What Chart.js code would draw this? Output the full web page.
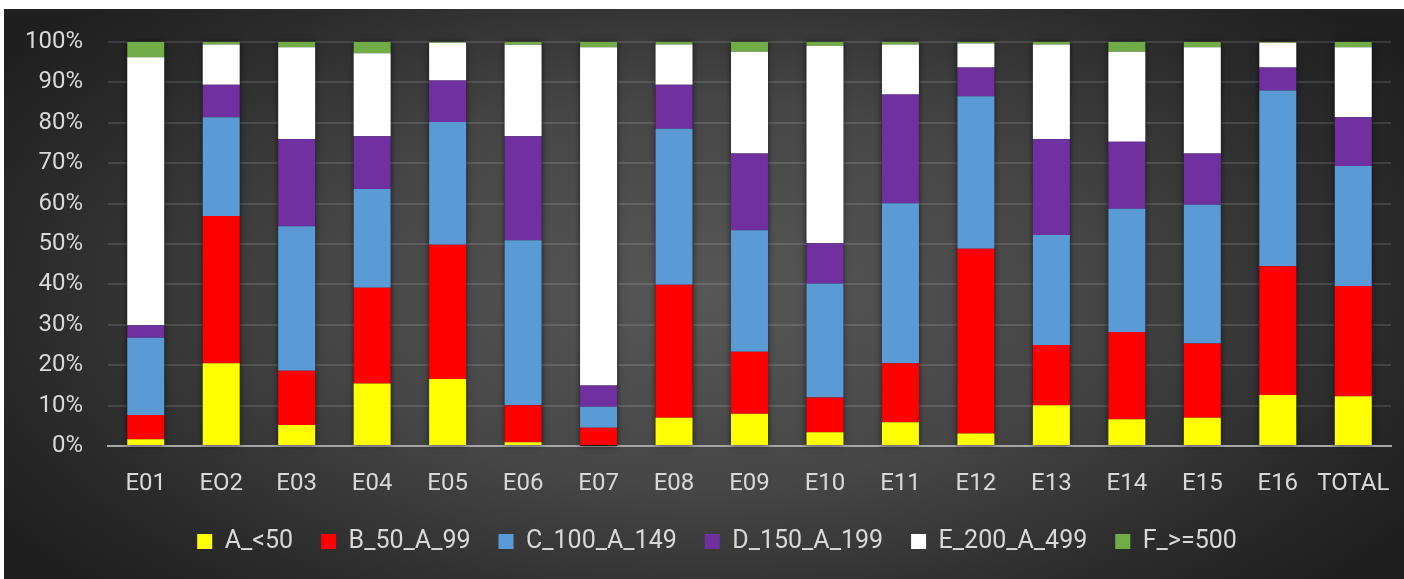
<!DOCTYPE html>
<html>
<head>
<meta charset="utf-8">
<title>Distribution by class</title>
<script src="https://cdn.jsdelivr.net/npm/chart.js@4/dist/chart.umd.min.js"></script>
<style>
  html, body { margin: 0; padding: 0; background: #ffffff; }
  #wrap {
    position: absolute;
    left: 4px; top: 9px;
    width: 1400px; height: 570px;
    background: radial-gradient(ellipse 60% 75% at 50% 50%, #575757 0%, #464646 45%, #2b2b2b 80%, #1f1f1f 100%);
  }
  canvas { display: block; }
</style>
</head>
<body>
<div id="wrap"><canvas id="chart"></canvas></div>
<script>
// Categories along the x axis
const categories = ['E01', 'EO2', 'E03', 'E04', 'E05', 'E06', 'E07', 'E08', 'E09', 'E10', 'E11', 'E12', 'E13', 'E14', 'E15', 'E16', 'TOTAL'];

// Series names
const seriesNames = ['A_<50', 'B_50_A_99', 'C_100_A_149', 'D_150_A_199', 'E_200_A_499', 'F_>=500'];

// Share of each class per category (%)
const seriesA = [1.7, 20.5, 5.2, 15.5, 16.6, 0.9, 0.0, 7.0, 8.0, 3.4, 5.9, 3.1, 10.1, 6.6, 7.0, 12.6, 12.3];
const seriesB = [6.0, 36.4, 13.4, 23.7, 33.2, 9.2, 4.5, 32.9, 15.3, 8.6, 14.6, 45.7, 14.9, 21.6, 18.4, 31.9, 27.3];
const seriesC = [19.1, 24.5, 35.8, 24.4, 30.4, 40.8, 5.2, 38.6, 30.1, 28.2, 39.6, 37.8, 27.2, 30.5, 34.3, 43.5, 29.7];
const seriesD = [3.1, 8.0, 21.6, 13.1, 10.3, 25.8, 5.3, 10.9, 19.0, 10.0, 26.9, 7.1, 23.8, 16.6, 12.7, 5.7, 12.1];
const seriesE = [66.3, 10.0, 22.7, 20.5, 9.3, 22.6, 83.7, 10.0, 25.2, 48.9, 12.4, 5.9, 23.4, 22.3, 26.3, 6.1, 17.3];
const seriesF = [3.8, 0.6, 1.3, 2.8, 0.2, 0.7, 1.3, 0.6, 2.4, 0.9, 0.6, 0.4, 0.6, 2.4, 1.3, 0.2, 1.3];

// Y axis tick values
const yTicks = [0, 10, 20, 30, 40, 50, 60, 70, 80, 90, 100];

const seriesValues = [seriesA, seriesB, seriesC, seriesD, seriesE, seriesF];
const seriesColors = ['#FFFF00', '#FF0000', '#5B9BD5', '#7030A0', '#FFFFFF', '#70AD47'];

const textColor = '#d9d9d9';
const fontFamily = 'Roboto, "Liberation Sans", sans-serif';

// Soft dark halo behind each stacked column
const columnShadow = {
  id: 'columnShadow',
  beforeDatasetsDraw(chart) {
    const metas = chart.getSortedVisibleDatasetMetas();
    if (!metas.length) return;
    const ctx = chart.ctx;
    const n = chart.data.labels.length;
    ctx.save();
    ctx.shadowColor = 'rgba(0,0,0,0.6)';
    ctx.shadowBlur = 6;
    ctx.fillStyle = 'rgba(30,30,30,1)';
    for (let i = 0; i < n; i++) {
      let top = Infinity, bottom = -Infinity, x = 0, w = 0;
      metas.forEach(m => {
        const el = m.data[i];
        if (!el) return;
        const p = el.getProps(['x', 'y', 'base', 'width'], true);
        top = Math.min(top, p.y, p.base);
        bottom = Math.max(bottom, p.y, p.base);
        x = p.x; w = p.width;
      });
      if (isFinite(top)) ctx.fillRect(x - w / 2, top, w, bottom - top);
    }
    ctx.restore();
  }
};

// Nudge the legend row a little to the right of the canvas centre
const legendShift = {
  id: 'legendShift',
  afterLayout(chart) {
    const lg = chart.legend;
    if (!lg) return;
    lg.left += 19.5;
    lg.right += 19.5;
  }
};

new Chart(document.getElementById('chart'), {
  type: 'bar',
  data: {
    labels: categories,
    datasets: seriesNames.map((name, k) => ({
      label: name,
      data: seriesValues[k],
      backgroundColor: seriesColors[k],
      borderWidth: 0,
      barPercentage: 0.49,
      categoryPercentage: 1.0
    }))
  },
  options: {
    responsive: true,
    maintainAspectRatio: false,
    animation: false,
    layout: { padding: { left: 0, right: 13, top: 33, bottom: 15 } },
    plugins: {
      legend: {
        position: 'bottom',
        labels: {
          color: textColor,
          font: { family: fontFamily, size: 25 },
          boxWidth: 15,
          boxHeight: 15,
          padding: 28
        }
      },
      tooltip: { enabled: false }
    },
    scales: {
      x: {
        stacked: true,
        grid: { display: false, drawTicks: false },
        border: { display: true, color: '#a6a6a6', width: 2 },
        ticks: {
          color: textColor,
          font: { family: fontFamily, size: 24 },
          padding: 24,
          maxRotation: 0,
          autoSkip: false
        },
        afterFit(scale) {
          scale.height = 55;
          scale.paddingLeft = 0;
          scale.paddingRight = 0;
        }
      },
      y: {
        stacked: true,
        min: 0,
        max: 100,
        afterBuildTicks(scale) { scale.ticks = yTicks.map(v => ({ value: v })); },
        grid: { color: 'rgba(255,255,255,0.12)', lineWidth: 2, drawTicks: false },
        border: { display: false },
        ticks: {
          color: textColor,
          font: { family: fontFamily, size: 24 },
          padding: 25,
          callback: v => v + '%'
        },
        afterFit(scale) {
          scale.width = 104;
          scale.paddingTop = 0;
          scale.paddingBottom = 0;
        }
      }
    }
  },
  plugins: [columnShadow, legendShift]
});
</script>
</body>
</html>
